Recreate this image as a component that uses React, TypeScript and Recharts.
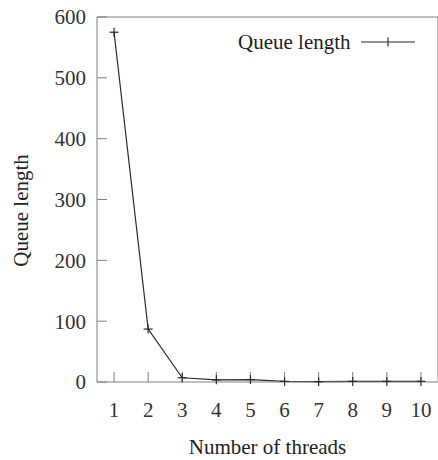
import { Label, Line, LineChart, XAxis, YAxis } from "recharts";

const threads = [1, 2, 3, 4, 5, 6, 7, 8, 9, 10];
const queueLength = [575, 87, 7, 3.5, 4, 1, 0.5, 1, 1, 1];
const yTicks = [0, 100, 200, 300, 400, 500, 600];

const data = threads.map((t, i) => ({ threads: t, queue: queueLength[i] }));

const FONT = "'Liberation Serif', 'DejaVu Serif', serif";
const FRAME = "#808080";
const LINE = "#2b2b2b";

function PlusDot(props: any) {
  const { cx, cy } = props;
  if (cx == null || cy == null) return null;
  return (
    <g stroke={LINE} strokeWidth={1.2}>
      <line x1={cx - 4.5} y1={cy} x2={cx + 4.5} y2={cy} />
      <line x1={cx} y1={cy - 4.5} x2={cx} y2={cy + 4.5} />
    </g>
  );
}

function LegendBox() {
  return (
    <div
      style={{
        position: "absolute",
        left: 238,
        top: 29,
        display: "flex",
        alignItems: "center",
        fontFamily: FONT,
        fontSize: 21,
        color: "#222",
        lineHeight: "26px",
      }}
    >
      <span>Queue length</span>
      <svg width={56} height={12} style={{ marginLeft: 10 }}>
        <line x1={0} y1={6} x2={54} y2={6} stroke={LINE} strokeWidth={1.2} />
        <line x1={27} y1={1.5} x2={27} y2={10.5} stroke={LINE} strokeWidth={1.2} />
      </svg>
    </div>
  );
}

export default function App() {
  return (
    <div style={{ position: "absolute", left: 0, top: 0, width: 438, height: 460 }}>
      <LineChart width={438} height={460} data={data} margin={{ top: 17, right: 0, bottom: 0, left: 0 }}>
        <XAxis
          dataKey="threads"
          type="number"
          domain={[0.5, 10.5]}
          ticks={threads}
          height={78}
          stroke={FRAME}
          tickSize={-10}
          tickMargin={30}
          tick={{ fill: "#333", fontFamily: FONT, fontSize: 21 }}
        >
          <Label
            content={(p: any) => (
              <text
                x={p.viewBox.x + p.viewBox.width / 2}
                y={p.viewBox.y + 72}
                textAnchor="middle"
                fontFamily={FONT}
                fontSize={21}
                fill="#222"
              >
                Number of threads
              </text>
            )}
          />
        </XAxis>
        <XAxis
          xAxisId="top"
          dataKey="threads"
          type="number"
          orientation="top"
          domain={[0.5, 10.5]}
          ticks={threads}
          height={1}
          mirror
          stroke={FRAME}
          tickSize={10}
          tick={false}
        />
        <YAxis
          domain={[0, 600]}
          ticks={yTicks}
          width={97}
          stroke={FRAME}
          tickSize={-10}
          tickMargin={21}
          tick={{ fill: "#333", fontFamily: FONT, fontSize: 21 }}
        >
          <Label
            content={(p: any) => {
              const cx = p.viewBox.x + 28;
              const cy = p.viewBox.y + p.viewBox.height / 2 + 11;
              return (
                <text
                  x={cx}
                  y={cy}
                  transform={`rotate(-90 ${cx} ${cy})`}
                  textAnchor="middle"
                  fontFamily={FONT}
                  fontSize={21}
                  fill="#222"
                >
                  Queue length
                </text>
              );
            }}
          />
        </YAxis>
        <YAxis
          yAxisId="right"
          orientation="right"
          domain={[0, 600]}
          ticks={yTicks}
          width={1}
          mirror
          stroke={FRAME}
          tickSize={10}
          tick={false}
        />
        <Line
          dataKey="queue"
          stroke={LINE}
          strokeWidth={1.2}
          dot={<PlusDot />}
          activeDot={false}
          isAnimationActive={false}
        />
      </LineChart>
      <LegendBox />
    </div>
  );
}
